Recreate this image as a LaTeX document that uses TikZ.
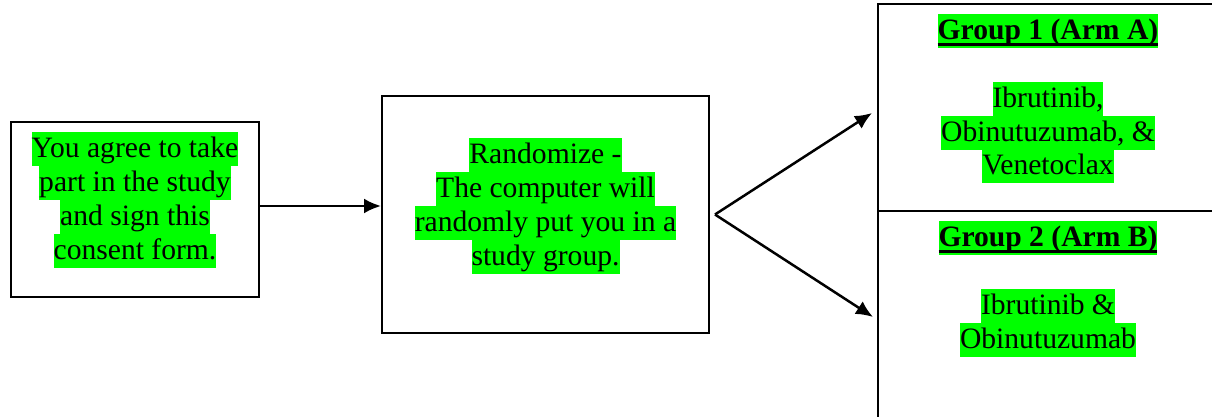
\documentclass[tikz,border=0pt]{standalone}
\usepackage{fontspec}
\setmainfont{Liberation Serif}
\usepackage{tikz}
\usetikzlibrary{arrows.meta, positioning}
\definecolor{hlgreen}{HTML}{00FF00}

% highlighted line of text, one band per line
\newcommand{\hlstrut}{\rule[-4.2pt]{0pt}{16.9pt}}
\newcommand{\hl}[1]{{\setlength{\fboxsep}{0pt}\colorbox{hlgreen}{\hlstrut#1}}}
\newcommand{\grouphead}[1]{\hl{\bfseries\setbox0\hbox{#1}\rlap{\rule[-3pt]{\wd0}{1.3pt}}\box0}}

\tikzset{
	stepbox/.style={draw, line width=1pt, inner sep=0pt},
	txt/.style={inner sep=0pt, align=center, font=\fontsize{14.8}{16.9}\selectfont},
	arr/.style={line width=1.25pt, -{Latex[length=8.5pt,width=7.5pt]}}
}

\begin{document}
\begin{tikzpicture}[x=0.5pt, y=-0.5pt]
	
	\clip (0,0) rectangle (1212,417);
	
	% boxes
	\node[stepbox, minimum width=124pt, minimum height=87.5pt] (consent) at (135,209.5) {};
	\node[stepbox, minimum width=163.5pt, minimum height=118.5pt] (random) at (545.5,214.5) {};
	\node[stepbox, minimum width=170pt, minimum height=103.5pt] (armA) at (1048,107.5) {};
	\node[stepbox, minimum width=170pt, minimum height=107pt] (armB) at (1048,318) {};
	
	% texts
	\node[txt, below=5.5pt of consent.north] (consenttxt) {\hl{You agree to take}\\\hl{part in the study}\\\hl{and sign this}\\\hl{consent form.}};
	\node[txt, below=21.5pt of random.north] (randomtxt) {\hl{Randomize -}\\\hl{The computer will}\\\hl{randomly put you in a}\\\hl{study group.}};
	\node[txt, below=5.5pt of armA.north] (armAtxt) {\grouphead{Group 1 (Arm A)}\\\hlstrut\\\hl{Ibrutinib,}\\\hl{Obinutuzumab, \&}\\\hl{Venetoclax}};
	\node[txt, below=5.5pt of armB.north] (armBtxt) {\grouphead{Group 2 (Arm B)}\\\hlstrut\\\hl{Ibrutinib \&}\\\hl{Obinutuzumab}};
	
	% arrows
	\draw[arr] ([yshift=1.75pt]consent.east) -- ([yshift=1.75pt]consent.east -| random.west);
	
	\coordinate (fork) at ([xshift=2.5pt]random.east);
	\coordinate (tipA) at (872,113);
	\coordinate (tipB) at (873,317);
	\draw[arr] (fork) -- (tipA);
	\draw[arr] (fork) -- (tipB);
	
\end{tikzpicture}
\end{document}
